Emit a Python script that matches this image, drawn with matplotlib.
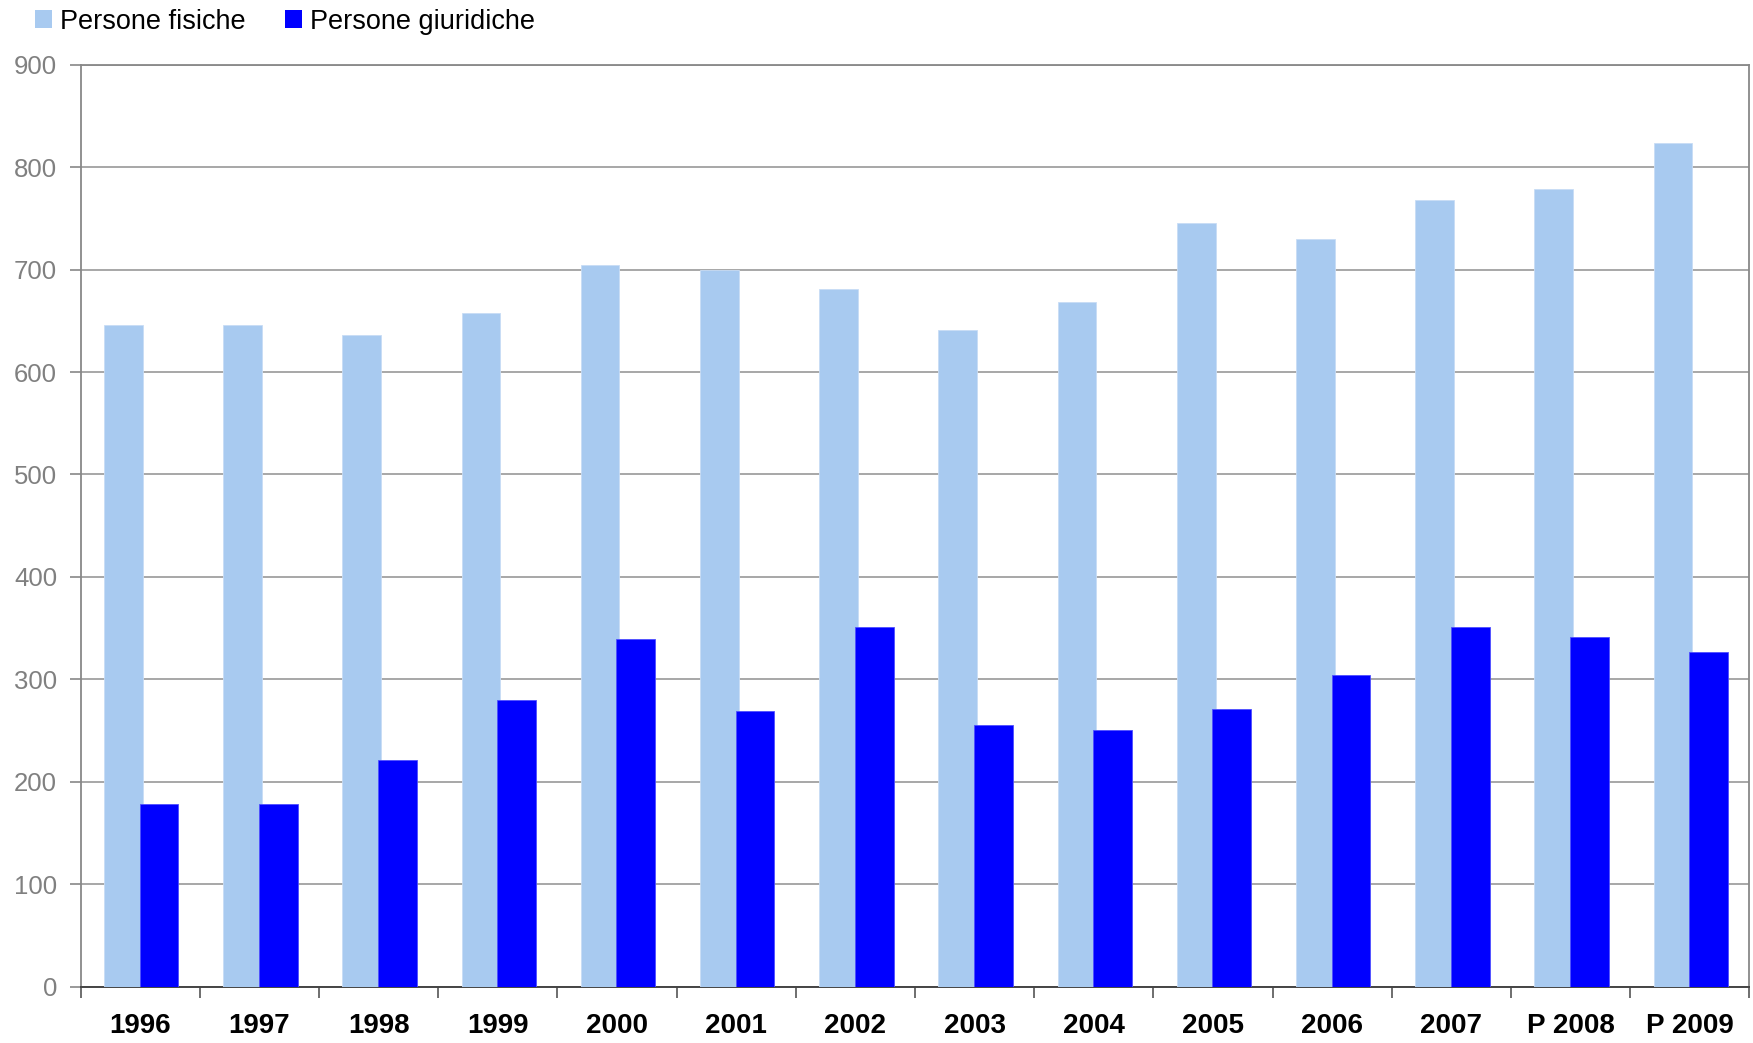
import numpy as np
import matplotlib.pyplot as plt
from matplotlib.patches import Patch

# data
years = ['1996', '1997', '1998', '1999', '2000', '2001', '2002',
         '2003', '2004', '2005', '2006', '2007', 'P 2008', 'P 2009']
fisiche = [646, 646, 636, 658, 704, 700, 681, 641, 668, 745, 730, 768, 779, 824]
giuridiche = [178, 178, 221, 280, 339, 269, 351, 255, 251, 271, 304, 351, 341, 327]

light = '#A8CAF0'
dark = '#0000FF'
font = ['Liberation Sans', 'DejaVu Sans']

fig = plt.figure(figsize=(17.53, 10.43), dpi=100)
ax = fig.add_axes([0.046, 0.054, 0.952, 0.884])

x = np.arange(len(years))
w = 0.325
ax.bar(x - 0.142, fisiche, w, color=light, edgecolor='#c8dcf5', linewidth=0.6, zorder=3)
ax.bar(x + 0.157, giuridiche, w, color=dark, edgecolor='#4f4fff', linewidth=0.6, zorder=3)

ax.set_ylim(0, 900)
ax.set_xlim(-0.5, len(years) - 0.5)

# y axis
ax.set_yticks(range(0, 901, 100))
ax.yaxis.grid(True, color='#a0a0a0', linewidth=1.3, zorder=0)
ax.tick_params(axis='y', direction='out', length=8, width=1.2, color='#888888',
               labelcolor='#808080', labelsize=18.5, pad=9)
for lab in ax.get_yticklabels():
    lab.set_family(font)

# x axis: ticks at boundaries, labels in the middle
ax.set_xticks(np.arange(-0.5, len(years), 1.0))
ax.set_xticklabels([])
ax.tick_params(axis='x', which='major', direction='out', length=8, width=1.2, color='#555555')
ax.set_xticks(x, minor=True)
ax.set_xticklabels(years, minor=True, fontsize=20, fontweight='bold', family=font)
ax.tick_params(axis='x', which='minor', length=0, pad=19)

for s in ['left', 'right', 'top']:
    ax.spines[s].set_color('#888888')
    ax.spines[s].set_linewidth(1.3)
ax.spines['bottom'].set_color('#444444')
ax.spines['bottom'].set_linewidth(1.4)

handles = [Patch(facecolor=light, label='Persone fisiche'),
           Patch(facecolor=dark, label='Persone giuridiche')]
fig.legend(handles=handles, loc='upper left', bbox_to_anchor=(0.006, 1.015), ncol=2,
           frameon=False, prop={'family': font, 'size': 19.5},
           handlelength=0.63, handleheight=0.63, handletextpad=0.3, columnspacing=1.45)

fig.savefig('out.png', dpi=100)
